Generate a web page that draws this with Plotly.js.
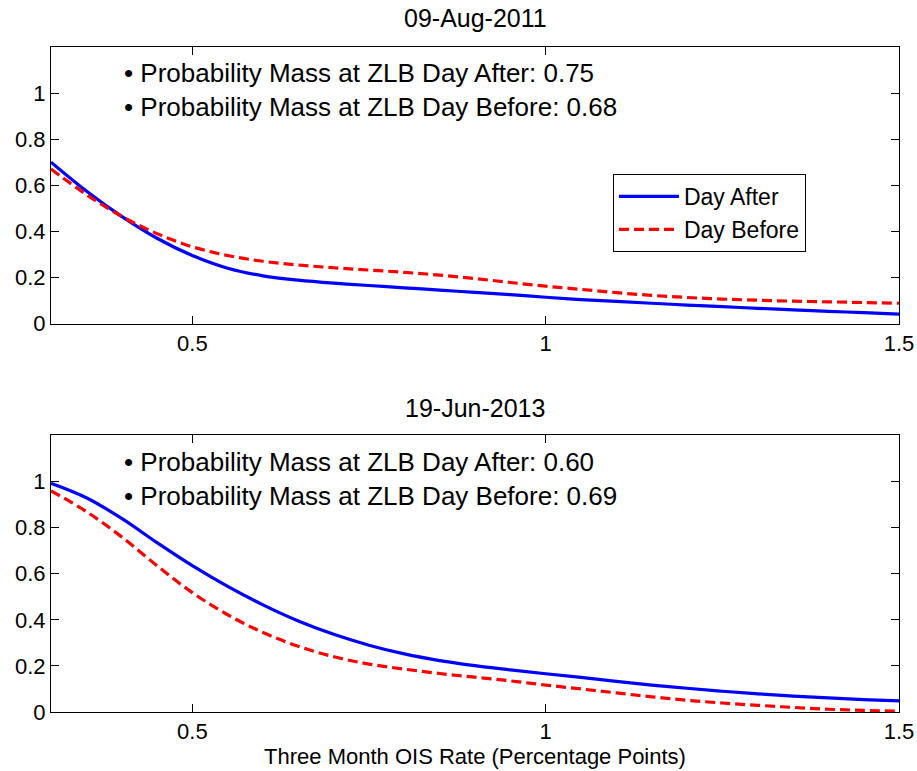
<!DOCTYPE html>
<html>
<head>
<meta charset="utf-8">
<script src="https://cdn.plot.ly/plotly-3.0.1.min.js"></script>
<style>
  html, body { margin: 0; padding: 0; background: #ffffff; }
  #chart { width: 917px; height: 771px; }
</style>
</head>
<body>
<div id="chart"></div>
<script>
// Three Month OIS Rate grid (percentage points)
const oisRate = [0.30, 0.35, 0.40, 0.45, 0.50, 0.55, 0.60, 0.65, 0.70, 0.75, 0.80, 0.85, 0.90,
                 0.95, 1.00, 1.05, 1.10, 1.15, 1.20, 1.25, 1.30, 1.35, 1.40, 1.45, 1.50];

// 09-Aug-2011
const aug2011After  = [0.700, 0.575, 0.465, 0.370, 0.295, 0.240, 0.207, 0.188, 0.175, 0.165, 0.155, 0.145, 0.135,
                       0.125, 0.114, 0.104, 0.096, 0.088, 0.080, 0.073, 0.066, 0.059, 0.053, 0.047, 0.041];
const aug2011Before = [0.670, 0.560, 0.465, 0.390, 0.333, 0.295, 0.270, 0.254, 0.242, 0.232, 0.222, 0.210, 0.195,
                       0.178, 0.162, 0.148, 0.134, 0.122, 0.113, 0.106, 0.101, 0.097, 0.094, 0.091, 0.088];

// 19-Jun-2013
const jun2013After  = [0.993, 0.930, 0.840, 0.735, 0.635, 0.545, 0.465, 0.395, 0.337, 0.290, 0.252, 0.223, 0.201,
                       0.183, 0.166, 0.150, 0.133, 0.117, 0.103, 0.090, 0.079, 0.069, 0.061, 0.054, 0.048];
const jun2013Before = [0.960, 0.870, 0.760, 0.635, 0.518, 0.422, 0.345, 0.285, 0.240, 0.208, 0.186, 0.167, 0.151,
                       0.135, 0.117, 0.100, 0.083, 0.066, 0.051, 0.039, 0.029, 0.020, 0.012, 0.007, 0.004];

const seriesNames = ["Day After", "Day Before"];
const panelTitles = ["09-Aug-2011", "19-Jun-2013"];
const panelNotes = [
  ["• Probability Mass at ZLB Day After: 0.75", "• Probability Mass at ZLB Day Before: 0.68"],
  ["• Probability Mass at ZLB Day After: 0.60", "• Probability Mass at ZLB Day Before: 0.69"]
];
const xTickVals = [0.5, 1, 1.5];
const xTickText = ["0.5", "1", "1.5"];
const yTickVals = [0, 0.2, 0.4, 0.6, 0.8, 1];
const yTickText = ["0", "0.2", "0.4", "0.6", "0.8", "1"];
const xLabel = "Three Month OIS Rate (Percentage Points)";

const FONT = "Liberation Sans, Arial, Helvetica, sans-serif";
const afterStyle = {color: "#0000ff", width: 3.2, shape: "spline", smoothing: 1};
const beforeStyle = {color: "#ff0000", width: 3.2, dash: "10px,5px", shape: "spline", smoothing: 1};

const traces = [
  {x: oisRate, y: aug2011After, name: seriesNames[0], mode: "lines", line: afterStyle, xaxis: "x", yaxis: "y"},
  {x: oisRate, y: aug2011Before, name: seriesNames[1], mode: "lines", line: beforeStyle, xaxis: "x", yaxis: "y"},
  {x: oisRate, y: jun2013After, name: seriesNames[0], mode: "lines", line: afterStyle, xaxis: "x2", yaxis: "y2", showlegend: false},
  {x: oisRate, y: jun2013Before, name: seriesNames[1], mode: "lines", line: beforeStyle, xaxis: "x2", yaxis: "y2", showlegend: false}
];

function xAxis(anchor) {
  return {
    anchor: anchor, range: [0.3, 1.5], tickvals: xTickVals, ticktext: xTickText,
    ticks: "inside", ticklen: 8, tickcolor: "#000", tickwidth: 1,
    showline: true, linecolor: "#000", linewidth: 1, mirror: "ticks",
    showgrid: false, zeroline: false, tickfont: {family: FONT, size: 22, color: "#000"},
    fixedrange: true
  };
}
function yAxis(anchor, domain) {
  return {
    anchor: anchor, domain: domain, range: [0, 1.2], tickvals: yTickVals, ticktext: yTickText,
    ticks: "inside", ticklen: 8, tickcolor: "#000", tickwidth: 1,
    showline: true, linecolor: "#000", linewidth: 1, mirror: "ticks",
    showgrid: false, zeroline: false, tickfont: {family: FONT, size: 22, color: "#000"},
    fixedrange: true
  };
}

const xa2 = xAxis("y2");
xa2.title = {text: xLabel, font: {family: FONT, size: 22, color: "#000"}, standoff: 0};

const noteFont = {family: FONT, size: 26, color: "#000"};
const titleFont = {family: FONT, size: 25, color: "#000"};

const annotations = [
  {text: panelTitles[0], xref: "paper", yref: "paper", x: 0.5, y: 1.0436, xanchor: "center", yanchor: "middle", showarrow: false, font: titleFont},
  {text: panelTitles[1], xref: "paper", yref: "paper", x: 0.5, y: 0.457, xanchor: "center", yanchor: "middle", showarrow: false, font: titleFont},
  {text: panelNotes[0][0], xref: "paper", yref: "paper", x: 0.0837, y: 0.961, xanchor: "left", yanchor: "middle", showarrow: false, font: noteFont},
  {text: panelNotes[0][1], xref: "paper", yref: "paper", x: 0.0837, y: 0.9105, xanchor: "left", yanchor: "middle", showarrow: false, font: noteFont},
  {text: panelNotes[1][0], xref: "paper", yref: "paper", x: 0.0837, y: 0.376, xanchor: "left", yanchor: "middle", showarrow: false, font: noteFont},
  {text: panelNotes[1][1], xref: "paper", yref: "paper", x: 0.0837, y: 0.325, xanchor: "left", yanchor: "middle", showarrow: false, font: noteFont}
];

const layout = {
  width: 917, height: 771,
  margin: {l: 51, r: 18, t: 47, b: 59, pad: 0},
  paper_bgcolor: "#ffffff", plot_bgcolor: "#ffffff",
  font: {family: FONT, size: 22, color: "#000"},
  xaxis: xAxis("y"),
  yaxis: yAxis("x", [0.5842, 1]),
  xaxis2: xa2,
  yaxis2: yAxis("x2", [0, 0.4158]),
  showlegend: true,
  legend: {
    x: 0.6627, y: 0.809, xanchor: "left", yanchor: "top", xref: "paper", yref: "paper",
    bgcolor: "#ffffff", bordercolor: "#000", borderwidth: 1,
    font: {family: FONT, size: 23, color: "#000"}, itemwidth: 60, tracegroupgap: 0
  },
  annotations: annotations
};

Plotly.newPlot("chart", traces, layout, {staticPlot: true, displayModeBar: false});
</script>
</body>
</html>
